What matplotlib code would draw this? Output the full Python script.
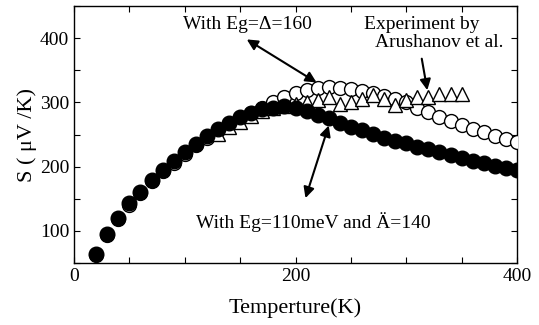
import matplotlib
matplotlib.use("Agg")
import matplotlib.pyplot as plt
from matplotlib.ticker import MultipleLocator

plt.rcParams['font.family'] = ['Liberation Serif', 'DejaVu Serif']

# calculation, Eg = 110 meV and delta = 140 (filled circles)
T_calc = [20, 30, 40, 50, 60, 70, 80, 90, 100, 110, 120, 130, 140, 150, 160,
          170, 180, 190, 200, 210, 220, 230, 240, 250, 260, 270, 280, 290, 300,
          310, 320, 330, 340, 350, 360, 370, 380, 390, 400]
S_110 = [64, 95, 120, 143, 161, 179, 195, 208, 222, 235, 247, 259, 268, 277, 284,
         290, 292, 294, 292, 287, 281, 275, 268, 262, 257, 251, 245, 240, 236,
         231, 227, 223, 218, 213, 209, 205, 201, 198, 194]
# calculation, Eg = delta = 160 (open circles)
S_160 = [63, 93, 118, 141, 159, 177, 193, 206, 220, 233, 245, 257, 266, 275, 283,
         291, 300, 309, 315, 320, 323, 324, 323, 321, 318, 314, 310, 305, 300,
         292, 285, 278, 271, 265, 259, 254, 248, 243, 238]
# experiment (Arushanov et al.)
T_exp = [130, 140, 150, 160, 170, 180, 190, 200, 210, 220, 230, 240, 250, 260,
         270, 280, 290, 300, 310, 320, 330, 340, 350]
S_exp = [251, 261, 270, 279, 286, 291, 295, 297, 300, 303, 308, 298, 301, 306,
         311, 306, 296, 303, 308, 308, 313, 313, 313]

fig = plt.figure(figsize=(5.39, 3.25), dpi=100)
ax = fig.add_axes([0.1373, 0.1908, 0.8219, 0.7907])

ax.plot(T_calc, S_160, 'o', ms=10, mfc='white', mec='black', mew=1.0, zorder=3)
ax.plot(T_exp, S_exp, '^', ms=10, mfc='white', mec='black', mew=1.0, zorder=4)
ax.plot(T_calc, S_110, 'o', ms=10.5, mfc='black', mec='black', mew=1.0, zorder=5)

ax.set_xlim(0, 400)
ax.set_ylim(50, 450)
ax.xaxis.set_major_locator(MultipleLocator(200))
ax.xaxis.set_minor_locator(MultipleLocator(50))
ax.set_yticks([100, 200, 300, 400])
ax.yaxis.set_minor_locator(MultipleLocator(50))
ax.tick_params(which='both', direction='in', top=True, right=True,
               length=4, width=0.8, labelsize=14)
for s in ax.spines.values():
    s.set_linewidth(1.0)

ax.set_xlabel('Temperture(K)', fontsize=16, labelpad=10)
ax.set_ylabel('S ( μV /K)', fontsize=16, labelpad=2)

tk = dict(fontsize=14, ha='center', va='center')
ax.text(157, 421, 'With Eg=Δ=160', **tk)
ax.text(314, 422, 'Experiment by', **tk)
ax.text(330, 393, 'Arushanov et al.', **tk)
ax.text(216, 113, 'With Eg=110meV and Ä=140', **tk)

arr2 = dict(arrowstyle='<|-|>', color='black', lw=1.5, mutation_scale=16,
            shrinkA=0, shrinkB=0)
arr1 = dict(arrowstyle='-|>', color='black', lw=1.5, mutation_scale=16,
            shrinkA=0, shrinkB=0)
ax.annotate('', xy=(219, 331), xytext=(156, 398), arrowprops=arr2, zorder=6)
ax.annotate('', xy=(319, 319), xytext=(314, 368), arrowprops=arr1, zorder=6)
ax.annotate('', xy=(209, 151), xytext=(230, 264), arrowprops=arr2, zorder=6)

fig.savefig('out.png', dpi=100)
